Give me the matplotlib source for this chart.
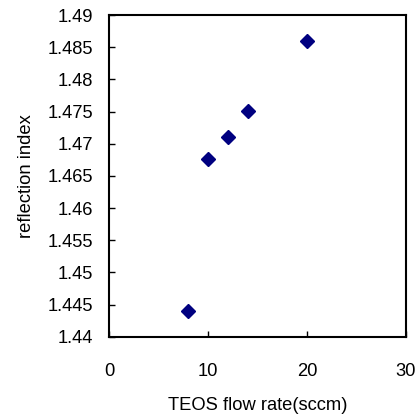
import matplotlib
matplotlib.use("Agg")
import matplotlib.pyplot as plt
from matplotlib.ticker import FuncFormatter

flow_rate = [8, 10, 12, 14, 20]
refl_index = [1.4440, 1.4676, 1.4710, 1.4751, 1.4860]
x_ticks = [0, 10, 20, 30]
y_ticks = [1.44, 1.445, 1.45, 1.455, 1.46, 1.465, 1.47, 1.475, 1.48, 1.485, 1.49]

plt.rcParams['font.family'] = ['Liberation Sans', 'DejaVu Sans']

fig = plt.figure(figsize=(4.19, 4.17), dpi=100)
ax = fig.add_axes([0.261, 0.1926, 0.707, 0.7714])

ax.plot(flow_rate, refl_index, linestyle='none', marker='D', markersize=7,
        color='#000080')

ax.set_xlim(0, 30)
ax.set_ylim(1.44, 1.49)
ax.set_xticks(x_ticks)
ax.set_yticks(y_ticks)
ax.yaxis.set_major_formatter(FuncFormatter(lambda v, p: f"{v:g}"))

ax.tick_params(axis='both', direction='in', length=4, width=1, labelsize=13.2)
ax.tick_params(axis='y', pad=11.5)
ax.tick_params(axis='x', pad=19)
for s in ax.spines.values():
    s.set_linewidth(1.5)
    s.set_color('black')

ax.set_xlabel('TEOS flow rate(sccm)', fontsize=13.2, labelpad=12)
ax.set_ylabel('reflection index', fontsize=13.2, labelpad=9)

fig.savefig('out.png', dpi=100)
